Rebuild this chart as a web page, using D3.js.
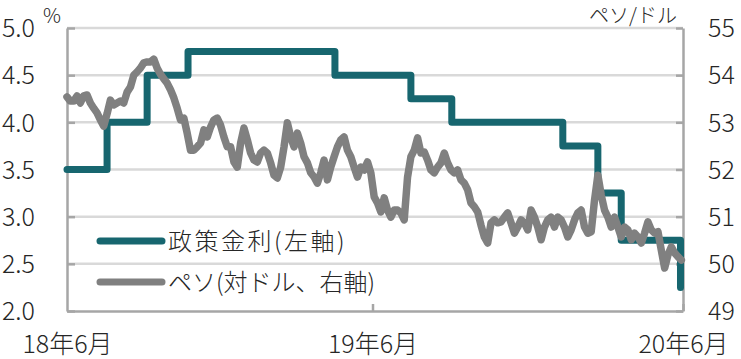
<!DOCTYPE html>
<html>
  <head>
    <meta charset="UTF-8">
    <title>政策金利とペソ</title>
    <script src="https://d3js.org/d3.v7.min.js"></script>
    <style>
    body { margin: 0; background: #fff; }
    text { font-family: "Noto Sans CJK JP", "Noto Sans", sans-serif; font-weight: 300; fill: #262626; }
    .grid line { stroke: #d9d9d9; stroke-width: 2.5px; }
    .axis path, .axis line { stroke: #a6a6a6; stroke-width: 2.5px; }
    .axis text { font-size: 25px; }
    </style>
  </head>
  <body>
  <script type="text/javascript">

  // policy rate (left axis, %), step changes
  var rateDates = ["2018-06-22", "2018-08-09", "2018-09-26", "2018-11-14", "2019-05-09", "2019-08-08",
                   "2019-09-26", "2020-02-06", "2020-03-19", "2020-04-16", "2020-06-26"];
  var rateValues = [3.5, 4.0, 4.5, 4.75, 4.5, 4.25, 4.0, 3.75, 3.25, 2.75, 2.25];

  // peso per dollar (right axis), one reading every 4 days from pesoStart
  var pesoStart = "2018-06-22", pesoStepDays = 4;
  var pesoValues = [
    53.54, 53.45, 53.45, 53.56, 53.41, 53.56, 53.58, 53.41, 53.30, 53.20,
    53.05, 52.92, 53.18, 53.47, 53.37, 53.41, 53.45, 53.41, 53.64, 53.75,
    54.00, 54.07, 54.15, 54.26, 54.28, 54.28, 54.34, 54.15, 54.02, 53.92,
    53.83, 53.69, 53.52, 53.30, 53.05, 53.09, 52.77, 52.41, 52.41, 52.48,
    52.56, 52.84, 52.69, 52.90, 53.05, 53.09, 52.94, 52.69, 52.48, 52.48,
    52.16, 52.05, 52.56, 52.88, 52.63, 52.35, 52.20, 52.16, 52.35, 52.41,
    52.35, 52.14, 51.88, 51.82, 52.05, 52.48, 52.99, 52.69, 52.48, 52.77,
    52.56, 52.27, 52.14, 51.93, 51.84, 51.71, 51.93, 52.20, 51.78, 52.05,
    52.27, 52.48, 52.63, 52.69, 52.41, 52.27, 52.05, 51.84, 52.05, 51.99,
    52.16, 51.93, 51.42, 51.29, 51.10, 51.40, 51.14, 50.99, 51.14, 51.14,
    51.08, 50.93, 51.84, 52.27, 52.41, 52.67, 52.35, 52.37, 52.20, 51.99,
    51.93, 52.05, 52.14, 52.35, 52.14, 51.99, 51.93, 51.99, 51.78, 51.71,
    51.57, 51.29, 51.21, 51.10, 50.82, 50.57, 50.44, 50.87, 50.93, 50.87,
    50.89, 50.99, 51.08, 50.87, 50.65, 50.78, 50.93, 50.87, 50.72, 51.14,
    50.99, 50.78, 50.51, 50.78, 50.93, 50.99, 50.78, 50.99, 50.93, 50.78,
    50.57, 50.72, 50.93, 51.08, 51.14, 50.78, 50.65, 50.68, 51.35, 51.88,
    51.46, 51.14, 50.99, 50.78, 50.99, 50.78, 50.57, 50.78, 50.72, 50.51,
    50.65, 50.57, 50.44, 50.65, 50.89, 50.72, 50.65, 50.68, 50.29, 49.91,
    50.19, 50.36, 50.23, 50.15, 50.08
  ];

  var leftTicks = [2.0, 2.5, 3.0, 3.5, 4.0, 4.5, 5.0];
  var rightTicks = [49, 50, 51, 52, 53, 54, 55];
  var xTickDates = ["2018-06-22", "2019-06-23", "2020-06-29"];
  var xTickLabels = ["18年6月", "19年6月", "20年6月"];
  var legendLabels = ["政策金利(左軸)", "ペソ(対ドル、右軸)"];

  var teal = "#17666f", gray = "#808080";
  var parse = d3.timeParse("%Y-%m-%d");

  var svg = d3.select("body").append("svg")
    .attr("width", 741)
    .attr("height", 359);

  var x = d3.scaleTime()
    .domain([parse(xTickDates[0]), parse(xTickDates[2])])
    .range([67, 683]);
  var yL = d3.scaleLinear().domain([2, 5]).range([311, 28]);
  var yR = d3.scaleLinear().domain([49, 55]).range([311, 28]);

  // gridlines
  svg.append("g").attr("class", "grid")
    .selectAll("line")
    .data(leftTicks.slice(1))
    .enter().append("line")
      .attr("x1", 67).attr("x2", 683)
      .attr("y1", d => yL(d)).attr("y2", d => yL(d));

  // axes
  svg.append("g").attr("class", "axis")
    .attr("transform", "translate(67,0)")
    .call(d3.axisLeft(yL).tickValues(leftTicks).tickFormat(d3.format(".1f"))
      .tickSizeInner(-8).tickSizeOuter(0).tickPadding(32))
    .selectAll("text").attr("dy", "0.35em");

  svg.append("g").attr("class", "axis")
    .attr("transform", "translate(683,0)")
    .call(d3.axisRight(yR).tickValues(rightTicks).tickFormat(d3.format("d"))
      .tickSizeInner(-7).tickSizeOuter(0).tickPadding(25))
    .selectAll("text").attr("dy", "0.35em");

  var xAxis = svg.append("g").attr("class", "axis")
    .attr("transform", "translate(0,311)")
    .call(d3.axisBottom(x).tickValues(xTickDates.map(parse))
      .tickFormat((d, i) => xTickLabels[i])
      .tickSizeInner(-7).tickSizeOuter(0).tickPadding(33));
  xAxis.selectAll("text").attr("dy", "0.35em");
  xAxis.selectAll(".tick line").filter((d, i) => i == 0).remove();

  svg.selectAll(".axis .domain").attr("fill", "none");

  // unit labels
  svg.append("text").attr("x", 52).attr("y", 16)
    .attr("text-anchor", "middle").attr("dy", "0.35em")
    .style("font-size", "20px").text("%");
  svg.append("text").attr("x", 677).attr("y", 16)
    .attr("text-anchor", "end").attr("dy", "0.35em")
    .style("font-size", "20px").text("ペソ/ドル");

  // policy rate step line
  var rateData = rateDates.map((d, i) => ({ date: parse(d), value: rateValues[i] }));
  svg.append("path")
    .datum(rateData)
    .attr("fill", "none")
    .attr("stroke", teal)
    .attr("stroke-width", 7)
    .attr("stroke-linejoin", "round")
    .attr("stroke-linecap", "round")
    .attr("d", d3.line().curve(d3.curveStepAfter)
      .x(d => x(d.date)).y(d => yL(d.value)));

  // peso line
  var start = parse(pesoStart);
  var pesoData = pesoValues.map((v, i) => ({ date: d3.timeDay.offset(start, i * pesoStepDays), value: v }));
  svg.append("path")
    .datum(pesoData)
    .attr("fill", "none")
    .attr("stroke", gray)
    .attr("stroke-width", 7.5)
    .attr("stroke-linejoin", "round")
    .attr("stroke-linecap", "round")
    .attr("d", d3.line().x(d => x(d.date)).y(d => yR(d.value)));

  // legend
  var legend = svg.append("g").selectAll("g")
    .data(legendLabels)
    .enter().append("g")
      .attr("transform", (d, i) => "translate(100," + (241 + i * 41) + ")");
  legend.append("line")
    .attr("x1", 0).attr("x2", 62)
    .attr("stroke", (d, i) => i == 0 ? teal : gray)
    .attr("stroke-width", 7)
    .attr("stroke-linecap", "round");
  legend.append("text")
    .attr("x", 68).attr("dy", "0.36em")
    .style("font-size", "24px")
    .style("letter-spacing", (d, i) => i == 0 ? "2.5px" : "0px")
    .text(d => d);

  </script>
  </body>
</html>
